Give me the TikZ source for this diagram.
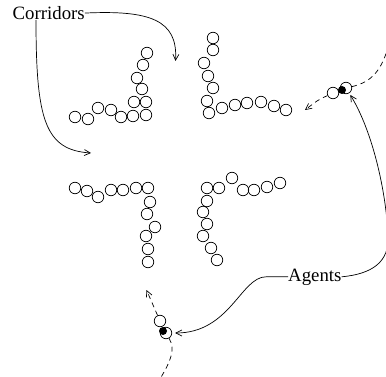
\documentclass[tikz,border=0pt]{standalone}
\usepackage{fontspec}
\setmainfont{Liberation Serif}
\usetikzlibrary{arrows.meta}
\begin{document}
\begin{tikzpicture}[x=1pt,y=-1pt,
  bead/.style={circle,draw,line width=0.7pt,minimum size=11.5pt,inner sep=0pt},
  agentdot/.style={circle,fill,inner sep=0pt,minimum size=8pt},
  lbl/.style={font=\fontsize{18.8}{20}\selectfont,inner sep=0pt},
  tip/.style={-{Straight Barb[length=6pt,width=6pt]}},
  conn/.style={line width=0.7pt,tip},
  trail/.style={line width=0.7pt,dash pattern=on 5pt off 4pt}]
\useasboundingbox (0,0) rectangle (386,377);
% corridor walls
\foreach \x/\y [count=\i] in {147/53,143/65,137/78,142/89,134/102,146/102,146/115,133/116,121/117,111/110,98/108,88/119,75/117}
  \node[bead] (tl\i) at (\x,\y) {};
\foreach \x/\y [count=\i] in {213/38,213/50,204/63,208/76,213/88,207/101,209/113,222/108,235/105,247/103,261/102,274/106,286/110}
  \node[bead] (tr\i) at (\x,\y) {};
\foreach \x/\y [count=\i] in {75/188,87/191,98/197,111/190,123/190,136/188,148/188,150/202,147/214,155/227,146/236,148/249,148/262}
  \node[bead] (bl\i) at (\x,\y) {};
\foreach \x/\y [count=\i] in {207/188,219/188,232/178,243/190,254/190,267/187,280/183,207/201,203/212,207/224,203/236,211/248,217/260}
  \node[bead] (br\i) at (\x,\y) {};
% agents
\node[bead] (ro) at (333,93) {};
\node[bead] (ra) at (346,88) {};
\node[agentdot] (rd) at (342,90) {};
\node[bead] (bo) at (160,321) {};
\node[bead] (ba) at (166,333) {};
\node[agentdot] (bd) at (163,331) {};
% labels
\node[lbl,anchor=base west] (corr) at (12.5,19.5) {Corridors};
\node[lbl,anchor=base west] (agents) at (288,281) {Agents};
% free ends
\coordinate (c1) at (175.5,61);
\coordinate (c2) at (91,153);
\coordinate (rt1) at (389,44);
\coordinate (rt2) at (305,110);
\coordinate (bt1) at (160,379);
\coordinate (bt2) at (146.5,290);
% corridor pointers
\draw[conn] (corr.east) .. controls (150,10) and (178,20) .. (c1);
\draw[conn] ([xshift=23.5pt]corr.south west) .. controls (36,120) and (45,150) .. (c2);
% agent pointers
\draw[conn,shorten >=2pt] (agents.east) .. controls (372,274) and (390,262) .. (388,235)
  .. controls (386,190) and (372,130) .. (ra);
\draw[conn,shorten >=3pt] (agents.west) -- ++(-22,0) .. controls +(-25,0) and (230,333) .. (ba);
% trails
\draw[trail] (ra) .. controls (372,82) and (382,70) .. (rt1);
\draw[trail,tip] (ro) .. controls (318,100) .. (rt2);
\draw[trail] (ba) .. controls (176,350) and (170,362) .. (bt1);
\draw[trail,tip] (bo) -- (bt2);
\end{tikzpicture}
\end{document}
